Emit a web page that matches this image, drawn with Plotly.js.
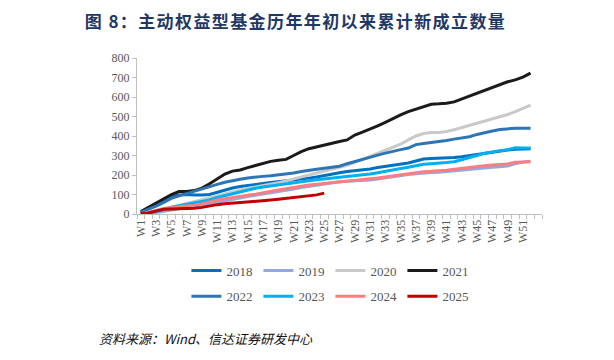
<!DOCTYPE html>
<html>
<head>
<meta charset="utf-8">
<script src="https://cdn.plot.ly/plotly-3.0.1.min.js"></script>
<style>
html,body{margin:0;padding:0;background:#fff;}
#chart{width:614px;height:360px;}
.gtitle{letter-spacing:1.4px;}
</style>
</head>
<body>
<div id="chart"></div>
<script>
// Weeks W1..W52
var weeks = [];
for (var i = 1; i <= 52; i++) weeks.push(i);
var tickWeeks = [1,3,5,7,9,11,13,15,17,19,21,23,25,27,29,31,33,35,37,39,41,43,45,47,49,51];
var tickLabels = tickWeeks.map(function(w){ return 'W' + w; });
var yTicks = [0,100,200,300,400,500,600,700,800];

var years = ['2018','2019','2020','2021','2022','2023','2024','2025'];

var v2018 = [5,25,48,70,88,98,100,98,97,100,112,124,133,141,145,150,156,162,166,170,176,180,184,190,198,205,212,218,222,226,231,238,244,250,256,262,272,282,284,285,286,290,294,300,307,312,318,323,328,332,335,335];
var v2019 = [0,3,8,14,20,28,35,40,45,52,60,68,76,84,90,96,102,108,114,120,128,136,142,148,154,160,165,168,170,172,174,180,186,192,197,202,206,210,213,214,218,222,226,230,234,238,240,242,246,258,266,270];
var v2020 = [2,8,15,25,35,45,55,65,75,85,95,105,115,125,132,138,145,152,160,170,180,190,200,210,218,228,238,250,265,280,295,310,325,340,358,380,400,413,418,418,423,432,443,455,465,478,488,498,510,525,542,558];
var v2021 = [13,35,55,80,100,115,115,120,133,155,180,205,220,226,238,250,262,270,276,280,300,320,335,345,355,365,372,380,405,420,435,452,470,490,508,525,538,552,563,565,568,575,590,605,620,635,650,665,678,688,702,722];
var v2022 = [10,25,40,60,80,93,105,120,132,141,152,163,172,178,185,190,193,196,200,205,210,218,225,230,235,240,245,258,270,282,292,302,312,322,330,338,356,362,366,370,377,384,390,396,408,418,426,433,437,440,440,440];
var v2023 = [2,5,12,25,35,43,50,56,62,72,85,95,105,115,125,132,138,144,149,155,160,166,171,176,180,184,187,190,195,200,205,212,218,225,233,240,248,255,258,260,264,268,278,288,300,312,320,325,330,340,338,338];
var v2024 = [2,8,18,28,33,36,40,45,52,62,72,78,83,90,96,102,108,115,123,130,137,143,149,153,157,160,162,166,170,175,180,185,190,195,202,208,213,217,219,221,225,230,235,240,244,248,251,254,257,265,268,268];
var v2025 = [2,5,15,24,26,27,28,30,34,42,48,52,55,58,60,64,68,72,76,80,84,88,93,98,107];

var seriesValues = [v2018,v2019,v2020,v2021,v2022,v2023,v2024,v2025];
var colors = ['#0070C0','#8FAADC','#C9C9C9','#1A1A1A','#2E75B6','#00B0F0','#FF7C80','#C00000'];

var serif = '"Liberation Serif", "Times New Roman", serif';
var cjk = '"Noto Sans CJK SC", sans-serif';

var traces = years.map(function(y, i){
  var vals = seriesValues[i];
  return {
    type: 'scatter',
    mode: 'lines',
    name: y,
    x: weeks.slice(0, vals.length),
    y: vals,
    line: {color: colors[i], width: 3},
    legend: i < 4 ? 'legend' : 'legend2',
    hoverinfo: 'skip'
  };
});

var legendCommon = {
  orientation: 'h',
  xanchor: 'left',
  yanchor: 'middle',
  font: {family: serif, size: 13, color: '#595959'},
  bgcolor: 'rgba(0,0,0,0)',
  entrywidth: 27,
  entrywidthmode: 'pixels',
  itemclick: false
};

var layout = {
  width: 614,
  height: 360,
  margin: {l: 137, r: 72, t: 58, b: 146},
  paper_bgcolor: '#ffffff',
  plot_bgcolor: '#ffffff',
  showlegend: true,
  title: {
    text: '<b>图 8：主动权益型基金历年年初以来累计新成立数量</b>',
    font: {family: cjk, size: 17, color: '#1F3864'},
    xref: 'container', yref: 'container',
    x: 0.138, xanchor: 'left',
    y: 0.94, yanchor: 'middle'
  },
  xaxis: {
    range: [0.5, 53.5],
    tickmode: 'array',
    tickvals: tickWeeks,
    ticktext: tickLabels,
    tickangle: -90,
    ticks: '',
    showgrid: false,
    zeroline: false,
    showline: true,
    linecolor: '#BFBFBF',
    linewidth: 1,
    tickfont: {family: serif, size: 12, color: '#595959'},
    minor: {tick0: 0.5, dtick: 1, ticks: 'outside', ticklen: 4, tickcolor: '#BFBFBF', tickwidth: 1, showgrid: false},
    fixedrange: true
  },
  yaxis: {
    range: [0, 800],
    tickmode: 'array',
    tickvals: yTicks,
    ticks: 'outside',
    ticklen: 4,
    tickcolor: '#BFBFBF',
    showgrid: false,
    zeroline: false,
    showline: true,
    linecolor: '#BFBFBF',
    linewidth: 1,
    tickfont: {family: serif, size: 12, color: '#595959'},
    fixedrange: true
  },
  legend: Object.assign({x: 0.122, y: -0.362}, legendCommon),
  legend2: Object.assign({x: 0.122, y: -0.527}, legendCommon),
  annotations: [{
    text: '<i>资料来源：Wind、信达证券研发中心</i>',
    xref: 'paper', yref: 'paper',
    x: -0.1, y: -0.795,
    xanchor: 'left', yanchor: 'middle',
    showarrow: false,
    font: {family: cjk, size: 13, color: '#111111'}
  }]
};

Plotly.newPlot('chart', traces, layout, {displayModeBar: false, staticPlot: true});
</script>
</body>
</html>
